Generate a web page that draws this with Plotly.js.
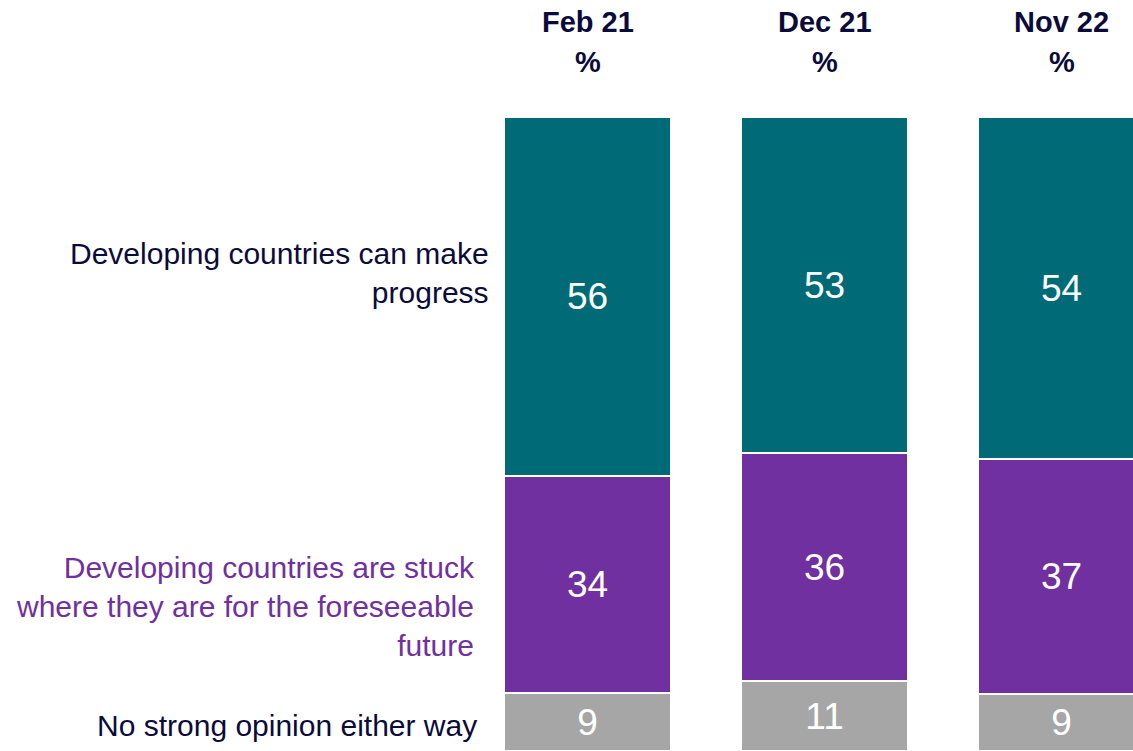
<!DOCTYPE html>
<html>
<head>
<meta charset="utf-8">
<script src="https://cdn.plot.ly/plotly-3.0.1.min.js"></script>
<style>html,body{margin:0;padding:0;background:#fff;}#chart{width:1133px;height:751px;}</style>
</head>
<body>
<div id="chart"></div>
<script>
var periods = ["Feb 21", "Dec 21", "Nov 22"];
var progress = [56, 53, 54];
var stuck = [34, 36, 37];
var noOpinion = [9, 11, 9];
var seriesLabels = [
  "Developing countries can make<br>progress",
  "Developing countries are stuck<br>where they are for the foreseeable<br>future",
  "No strong opinion either way"
];

var xpos = periods.map(function(p, i){ return i; });
var BAR_W = 0.705;
var FONT = "Liberation Sans, Arial, sans-serif";

function mk(vals, color, name){
  return {
    type: "bar", x: xpos, y: vals, name: name, width: BAR_W,
    marker: {color: color, line: {color: "#ffffff", width: 2}},
    text: vals.map(String), texttemplate: "%{text}",
    textposition: "inside", insidetextanchor: "middle",
    textfont: {family: FONT, size: 37, color: "#ffffff"},
    hoverinfo: "skip", cliponaxis: false
  };
}

var data = [
  mk(noOpinion, "#A6A6A6", "No strong opinion"),
  mk(stuck, "#70309F", "Stuck"),
  mk(progress, "#006B77", "Progress")
];

var annotations = [];
periods.forEach(function(p, i){
  annotations.push({xref: "x", yref: "paper", x: i, y: 1, yanchor: "middle", yshift: 95,
    text: "<b>" + p + "</b>", showarrow: false,
    font: {family: FONT, size: 29, color: "#0B0B3B"}});
  annotations.push({xref: "x", yref: "paper", x: i, y: 1, yanchor: "middle", yshift: 55,
    text: "<b>%</b>", showarrow: false,
    font: {family: FONT, size: 29, color: "#0B0B3B"}});
});
annotations.push({xref: "paper", yref: "paper", x: 491/1133, y: (751-273)/634, xanchor: "right", yanchor: "middle",
  align: "right", text: seriesLabels[0], showarrow: false, font: {family: FONT, size: 30, color: "#0B0B3B"}});
annotations.push({xref: "paper", yref: "paper", x: 477/1133, y: (751-606)/634, xanchor: "right", yanchor: "middle",
  align: "right", text: seriesLabels[1], showarrow: false, font: {family: FONT, size: 30, color: "#70309F"}});
annotations.push({xref: "paper", yref: "paper", x: 479/1133, y: (751-725)/634, xanchor: "right", yanchor: "middle",
  align: "right", text: seriesLabels[2], showarrow: false, font: {family: FONT, size: 30, color: "#0B0B3B"}});

var layout = {
  width: 1133, height: 751,
  margin: {l: 0, r: 0, t: 117, b: 0, pad: 0},
  paper_bgcolor: "#ffffff", plot_bgcolor: "#ffffff",
  barmode: "stack", barnorm: "percent",
  showlegend: false,
  xaxis: {range: [-587.5/237, (1133-587.5)/237], visible: false, fixedrange: true},
  yaxis: {range: [0, 100], visible: false, fixedrange: true},
  annotations: annotations,
  uniformtext: {mode: false}
};

Plotly.newPlot("chart", data, layout, {displayModeBar: false, staticPlot: true});
</script>
</body>
</html>
